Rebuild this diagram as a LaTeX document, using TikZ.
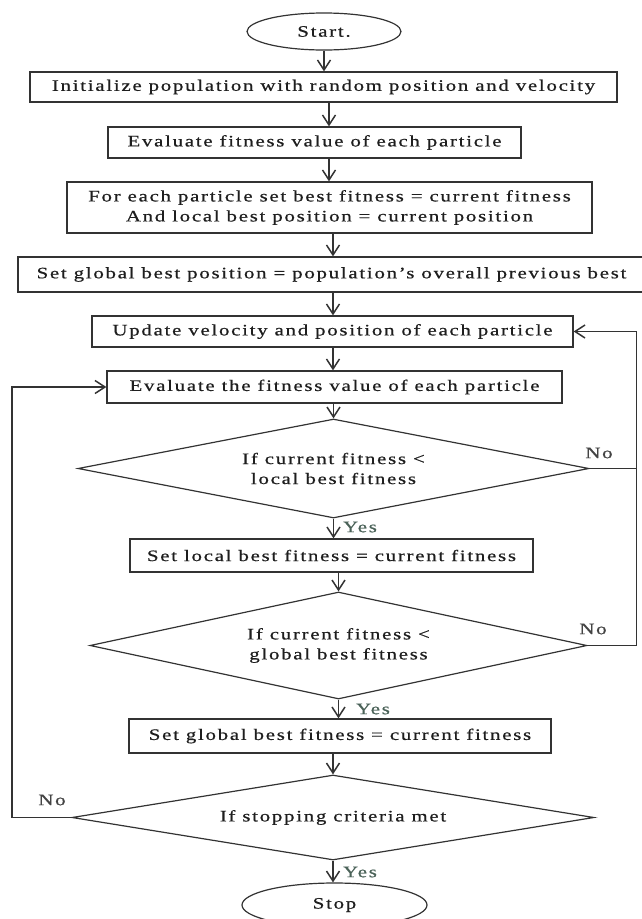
\documentclass[tikz,border=0pt]{standalone}
\usepackage{fontspec}
\setmainfont{Liberation Serif}[FakeStretch=1.3,LetterSpace=11,FakeBold=0.6]
\usetikzlibrary{shapes.geometric,arrows.meta,calc}
\definecolor{linec}{HTML}{333333}
\definecolor{txtc}{HTML}{1E1E1E}
\definecolor{yesc}{HTML}{4A6258}
\definecolor{noc}{HTML}{444444}
\begin{document}
\begin{tikzpicture}[x=1pt,y=-1pt,
  font=\fontsize{16}{20}\selectfont,
  every node/.style={text=txtc},
  procbox/.style={draw=linec,line width=1.3pt,rectangle,inner sep=0pt,align=center},
  termbox/.style={draw=linec,line width=1.2pt,ellipse,inner sep=0pt},
  decbox/.style={draw=linec,line width=1.2pt,diamond,shape aspect=4,inner sep=0pt,align=center},
  flow/.style={draw=linec,line width=1.3pt,-{Straight Barb[length=10pt,width=13pt,line width=1.5pt]}},
  plainline/.style={draw=linec,line width=1.3pt},
  yeslbl/.style={text=yesc},
  nolbl/.style={text=noc}]
\fill[white] (0,0) rectangle (641,919);
\useasboundingbox (0,0) rectangle (641,919);

% terminals
\node[termbox,minimum width=154,minimum height=37] (start) at (324,31.5) {Start.};
\node[termbox,minimum width=185,minimum height=44] (stop) at (334.5,905) {Stop};

% process boxes
\node[procbox,minimum width=587,minimum height=30] (init) at (323.5,87) {Initialize population with random position and velocity};
\node[procbox,minimum width=413,minimum height=31] (eval1) at (314.5,142.5) {Evaluate fitness value of each particle};
\node[procbox,minimum width=525,minimum height=51] (foreach) at (329.5,207.5) {For each particle set best fitness = current fitness\\And local best position = current position};
\node[procbox,minimum width=627,minimum height=35] (setgbp) at (331.5,274.5) {Set global best position = population’s overall previous best};
\node[procbox,minimum width=481,minimum height=31] (update) at (332.5,331.5) {Update velocity and position of each particle};
\node[procbox,minimum width=455,minimum height=32] (eval2) at (334.5,387) {Evaluate the fitness value of each particle};
\node[procbox,minimum width=403,minimum height=33] (setlocal) at (331.5,555.5) {Set local best fitness = current fitness};
\node[procbox,minimum width=422,minimum height=34] (setglobal) at (340,736) {Set global best fitness = current fitness};

% decisions
\node[decbox,minimum width=511,minimum height=99] (d1) at (333.5,468.5) {If current fitness <\\local best fitness};
\node[decbox,minimum width=497,minimum height=107] (d2) at (338.5,645.5) {If current fitness <\\global best fitness};
\node[decbox,minimum width=522,minimum height=85] (d3) at (333,817.5) {If stopping criteria met};

% columns
\coordinate (cB) at (329,0);
\coordinate (cC) at (333,0);
\coordinate (rx) at (636.5,0);
\coordinate (lx) at (12,0);

% main flow
\draw[flow] (start.south) -- (start.south |- init.north);
\draw[flow] (init.south -| cB) -- (eval1.north -| cB);
\draw[flow] (eval1.south -| cB) -- (foreach.north -| cB);
\draw[flow] (foreach.south -| cC) -- (setgbp.north -| cC);
\draw[flow] (setgbp.south -| cC) -- (update.north -| cC);
\draw[flow] (update.south -| cC) -- (eval2.north -| cC);
\draw[flow] (eval2.south -| d1.north) -- (d1.north);
\draw[flow] (d1.south) -- (d1.south |- setlocal.north);
\draw[flow] (setlocal.south -| d2.north) -- (d2.north);
\draw[flow] (d2.south) -- (d2.south |- setglobal.north);
\draw[flow] (setglobal.south -| d3.north) -- (d3.north);
\draw[flow] (d3.south) -- (d3.south |- stop.north);

% loops
\draw[flow] (d1.east) -- (d1.east -| rx) -- (update.east -| rx) -- (update.east);
\draw[plainline] (d2.east) -- (d2.east -| rx) -- (d1.east -| rx);
\draw[flow] (d3.west) -- (d3.west -| lx) -- (eval2.west -| lx) -- (eval2.west);

% labels
\node[nolbl] (no1) at (599,453) {No};
\node[nolbl] (no2) at (593,629) {No};
\node[nolbl] (no3) at (52,800) {No};
\node[yeslbl] (yes1) at (360,527) {Yes};
\node[yeslbl] (yes2) at (373,709) {Yes};
\node[yeslbl] (yes3) at (360,872) {Yes};
\end{tikzpicture}
\end{document}
